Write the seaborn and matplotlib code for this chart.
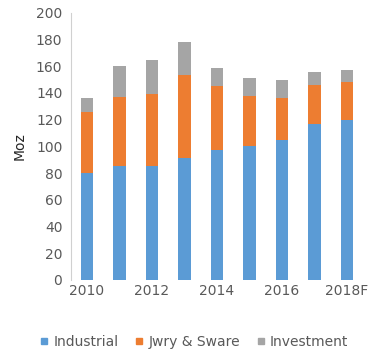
import matplotlib
matplotlib.use('Agg')
import matplotlib.pyplot as plt
from matplotlib.lines import Line2D
import numpy as np
import seaborn as sns

years = ['2010', '2011', '2012', '2013', '2014', '2015', '2016', '2017', '2018F']
industrial = [80, 85, 85, 91.5, 97, 100, 104.5, 117, 120]
jewelry = [45.5, 52, 54.5, 62, 48, 38, 32, 29, 28.5]
investment = [10.5, 23.5, 25.5, 24.5, 14, 13.5, 13.5, 10, 8.5]
series_names = ['Industrial', 'Jwry & Sware', 'Investment']
colors = ['#5B9BD5', '#ED7D31', '#A5A5A5']

sns.set_style('white')
plt.rcParams['font.family'] = ['DejaVu Sans']

fig = plt.figure(figsize=(3.77, 3.56), dpi=100)
ax = fig.add_axes([0.1875, 0.2135, 0.776, 0.7505])

# stacked bars: draw running totals back to front
lvl1 = np.array(industrial)
lvl2 = lvl1 + np.array(jewelry)
lvl3 = lvl2 + np.array(investment)
for vals, col in zip([lvl3, lvl2, lvl1], colors[::-1]):
    sns.barplot(x=years, y=vals, color=col, width=0.38, saturation=1,
                linewidth=0, ax=ax)

ax.set_ylim(0, 200)
ax.set_yticks(np.arange(0, 201, 20))
ax.set_xlim(-0.5, 8.5)
ax.set_xticks([0, 2, 4, 6, 8])
ax.set_xticklabels([years[i] for i in [0, 2, 4, 6, 8]])
ax.tick_params(axis='both', length=0, labelsize=10, labelcolor='#595959')
ax.tick_params(axis='y', pad=6)
ax.tick_params(axis='x', pad=3)
ax.set_ylabel('Moz', fontsize=10, color='#262626', labelpad=7)
ax.set_xlabel('')

for s in ['top', 'right', 'bottom']:
    ax.spines[s].set_visible(False)
ax.spines['left'].set_color('#D0D0D0')
ax.spines['left'].set_linewidth(0.8)

handles = [Line2D([], [], marker='s', markersize=4.5, linestyle='none',
                  color=c) for c in colors]
fig.legend(handles, series_names, loc='center', bbox_to_anchor=(0.515, 0.04),
           ncol=3, frameon=False, fontsize=10, handletextpad=0.35,
           columnspacing=1.2, handlelength=0.6, labelcolor='#595959')

fig.savefig('out.png', dpi=100)
